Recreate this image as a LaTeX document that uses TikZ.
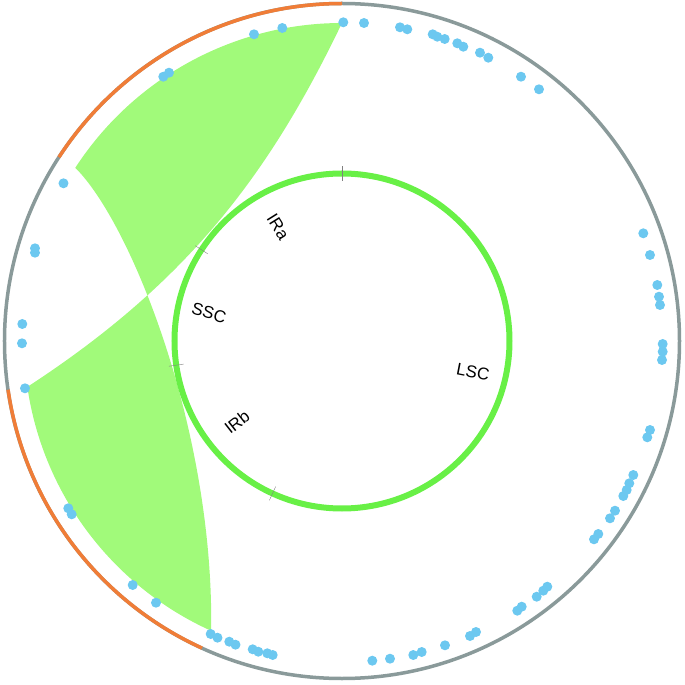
\documentclass[tikz,border=0pt]{standalone}
\usepackage{fontspec}
\setmainfont{Liberation Sans}
\definecolor{ringgray}{RGB}{138,154,154}
\definecolor{irorange}{RGB}{240,125,55}
\definecolor{ribbongreen}{RGB}{161,250,122}
\definecolor{circgreen}{RGB}{104,240,70}
\definecolor{dotblue}{RGB}{108,200,240}
\tikzset{
  outerring/.style={draw=ringgray, line width=3.5pt},
  irarc/.style={draw=irorange, line width=3.5pt},
  ribbon/.style={fill=ribbongreen},
  genome/.style={draw=circgreen, line width=6pt},
  ticklin/.style={draw=gray, line width=0.4pt},
  reglabel/.style={font=\fontsize{17}{20}\selectfont, inner sep=0pt},
  snp/.style={fill=dotblue}
}
\begin{document}
\begin{tikzpicture}[x=1pt,y=1pt]
\useasboundingbox (-342,-344) rectangle (343,341);
% outer ring
\draw[outerring] (0,0) circle[radius=337.5pt];
\draw[irarc] (90:337.5) arc[start angle=90,end angle=147,radius=337.5pt];
\draw[irarc] (188.3:337.5) arc[start angle=188.3,end angle=245.5,radius=337.5pt];
% ribbon linking the inverted repeats
\fill[ribbon] (90:318) arc[start angle=90,end angle=147,radius=318pt]
  .. controls (-211,118) and (-128,-89) .. (245.7:318)
  arc[start angle=245.7,end angle=188.3,radius=318pt]
  .. controls (-155,58) and (-73,166) .. cycle;
% genome circle
\draw[genome] (0,0) circle[radius=167.5pt];
\foreach \a in {90,147,188.3,245.5}{
  \draw[ticklin] (\a:160) -- (\a:175);
}
% labels
\node[reglabel, rotate=-58] (ira) at (-64,114) {IRa};
\node[reglabel, rotate=-16] (ssc) at (-133,28) {SSC};
\node[reglabel, rotate=38] (irb) at (-105,-81) {IRb};
\node[reglabel, rotate=-11] (lsc) at (131,-31) {LSC};
% dots (pixel coordinates)
\begin{scope}[yscale=-1, shift={(-342,-341)}]
\foreach \x/\y in {
63.5/183.3, 35/248.3, 35/252.7, 22.3/324, 22/343.3, 25/388.3,
68.3/508.3, 71.7/514.3, 132.7/585, 156/602.7, 210.7/634, 217.5/637.7,
229.3/641.7, 235.5/644.7, 252.7/649.3, 258.3/651.7, 267.3/653.3, 272.7/655,
372.3/660.7, 390/658.7, 413.3/655, 421.7/652, 445/645.3, 470/636, 476/632,
517.3/610.7, 521.7/606.7, 536.7/596.7, 543.3/590.7, 547.3/586.7,
594/539.3, 598.3/534, 610/518.3, 615/510.7, 623.3/496, 626.7/490,
629.3/483.3, 633.3/475, 647.3/437.3, 650/430, 662/360, 662.7/351.7,
662.7/344, 660/305, 659/296.7, 657.3/285, 650/255, 643.3/233.3,
539/89.3, 521/76.7, 488.3/57.7, 480/52.7, 463.3/46.7, 457.3/43.3,
444.7/39, 437.3/36.7, 432.7/34.3, 407.3/29.3, 400/27.3, 364/23,
343.3/22.3, 282.3/28, 254/34.3, 169/72.7, 163.3/76.7}{
  \fill[snp] (\x,\y) circle[radius=5pt];
}
\end{scope}
\end{tikzpicture}
\end{document}
